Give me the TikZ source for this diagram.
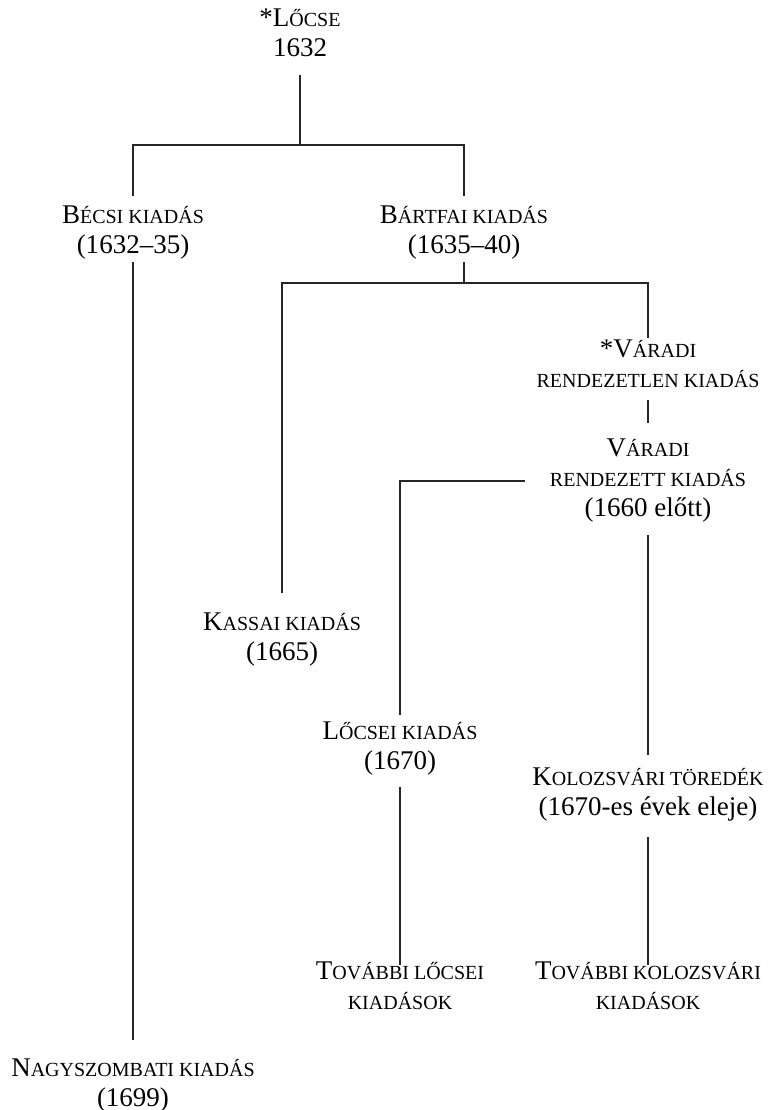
\documentclass[tikz,border=0pt]{standalone}
\usepackage{fontspec}
\setmainfont{Liberation Serif}
\newcommand\smc{\fontsize{20}{30}\selectfont}
\tikzset{
  ed/.style={font=\fontsize{27}{30}\selectfont, align=center, inner sep=0pt, anchor=base},
  link/.style={line width=1.1pt, draw=black!85},
}
\begin{document}
\begin{tikzpicture}[x=1pt,y=-1pt]
\useasboundingbox (0,0) rectangle (768,1110);

% editions (each placed by the baseline of its last line)
\node[ed] (locse) at (300,57)   {*L{\smc ŐCSE}\\1632};
\node[ed] (becs)  at (133,253)  {B{\smc ÉCSI KIADÁS}\\(1632–35)};
\node[ed] (bart)  at (464,253)  {B{\smc ÁRTFAI KIADÁS}\\(1635–40)};
\node[ed] (vrdl)  at (648,387)  {*V{\smc ÁRADI}\\{\smc RENDEZETLEN KIADÁS}};
\node[ed] (vrd)   at (648,516)  {V{\smc ÁRADI}\\{\smc RENDEZETT KIADÁS}\\(1660 előtt)};
\node[ed] (kassa) at (282,660)  {K{\smc ASSAI KIADÁS}\\(1665)};
\node[ed] (locs2) at (400,769)  {L{\smc ŐCSEI KIADÁS}\\(1670)};
\node[ed] (kolo)  at (648,815)  {K{\smc OLOZSVÁRI TÖREDÉK}\\(1670-es évek eleje)};
\node[ed] (tloc)  at (400,1009) {T{\smc OVÁBBI LŐCSEI}\\{\smc KIADÁSOK}};
\node[ed] (tkol)  at (648,1009) {T{\smc OVÁBBI KOLOZSVÁRI}\\{\smc KIADÁSOK}};
\node[ed] (nagy)  at (133,1106) {N{\smc AGYSZOMBATI KIADÁS}\\(1699)};

% junction points
\coordinate (j1) at (300,145);
\coordinate (j2) at (464,283);
\coordinate (j3) at (525,481);

% stemma lines
\draw[link] (locse.south |- 0,75) -- (j1);
\draw[link] (j1) -| (becs.north |- 0,196);
\draw[link] (j1) -| (bart.north |- 0,196);
\draw[link] (becs.south |- 0,262) -- (nagy.north |- 0,1040);
\draw[link] (bart.south |- 0,262) -- (j2);
\draw[link] (j2) -| (kassa.north |- 0,593);
\draw[link] (j2) -| (vrdl.north |- 0,338);
\draw[link] (vrdl.south |- 0,400) -- (vrd.north |- 0,423);
\draw[link] (j3) -| (locs2.north |- 0,715);
\draw[link] (vrd.south |- 0,535) -- (kolo.north |- 0,755);
\draw[link] (locs2.south |- 0,787) -- (tloc.north |- 0,965);
\draw[link] (kolo.south |- 0,837) -- (tkol.north |- 0,965);
\end{tikzpicture}
\end{document}
